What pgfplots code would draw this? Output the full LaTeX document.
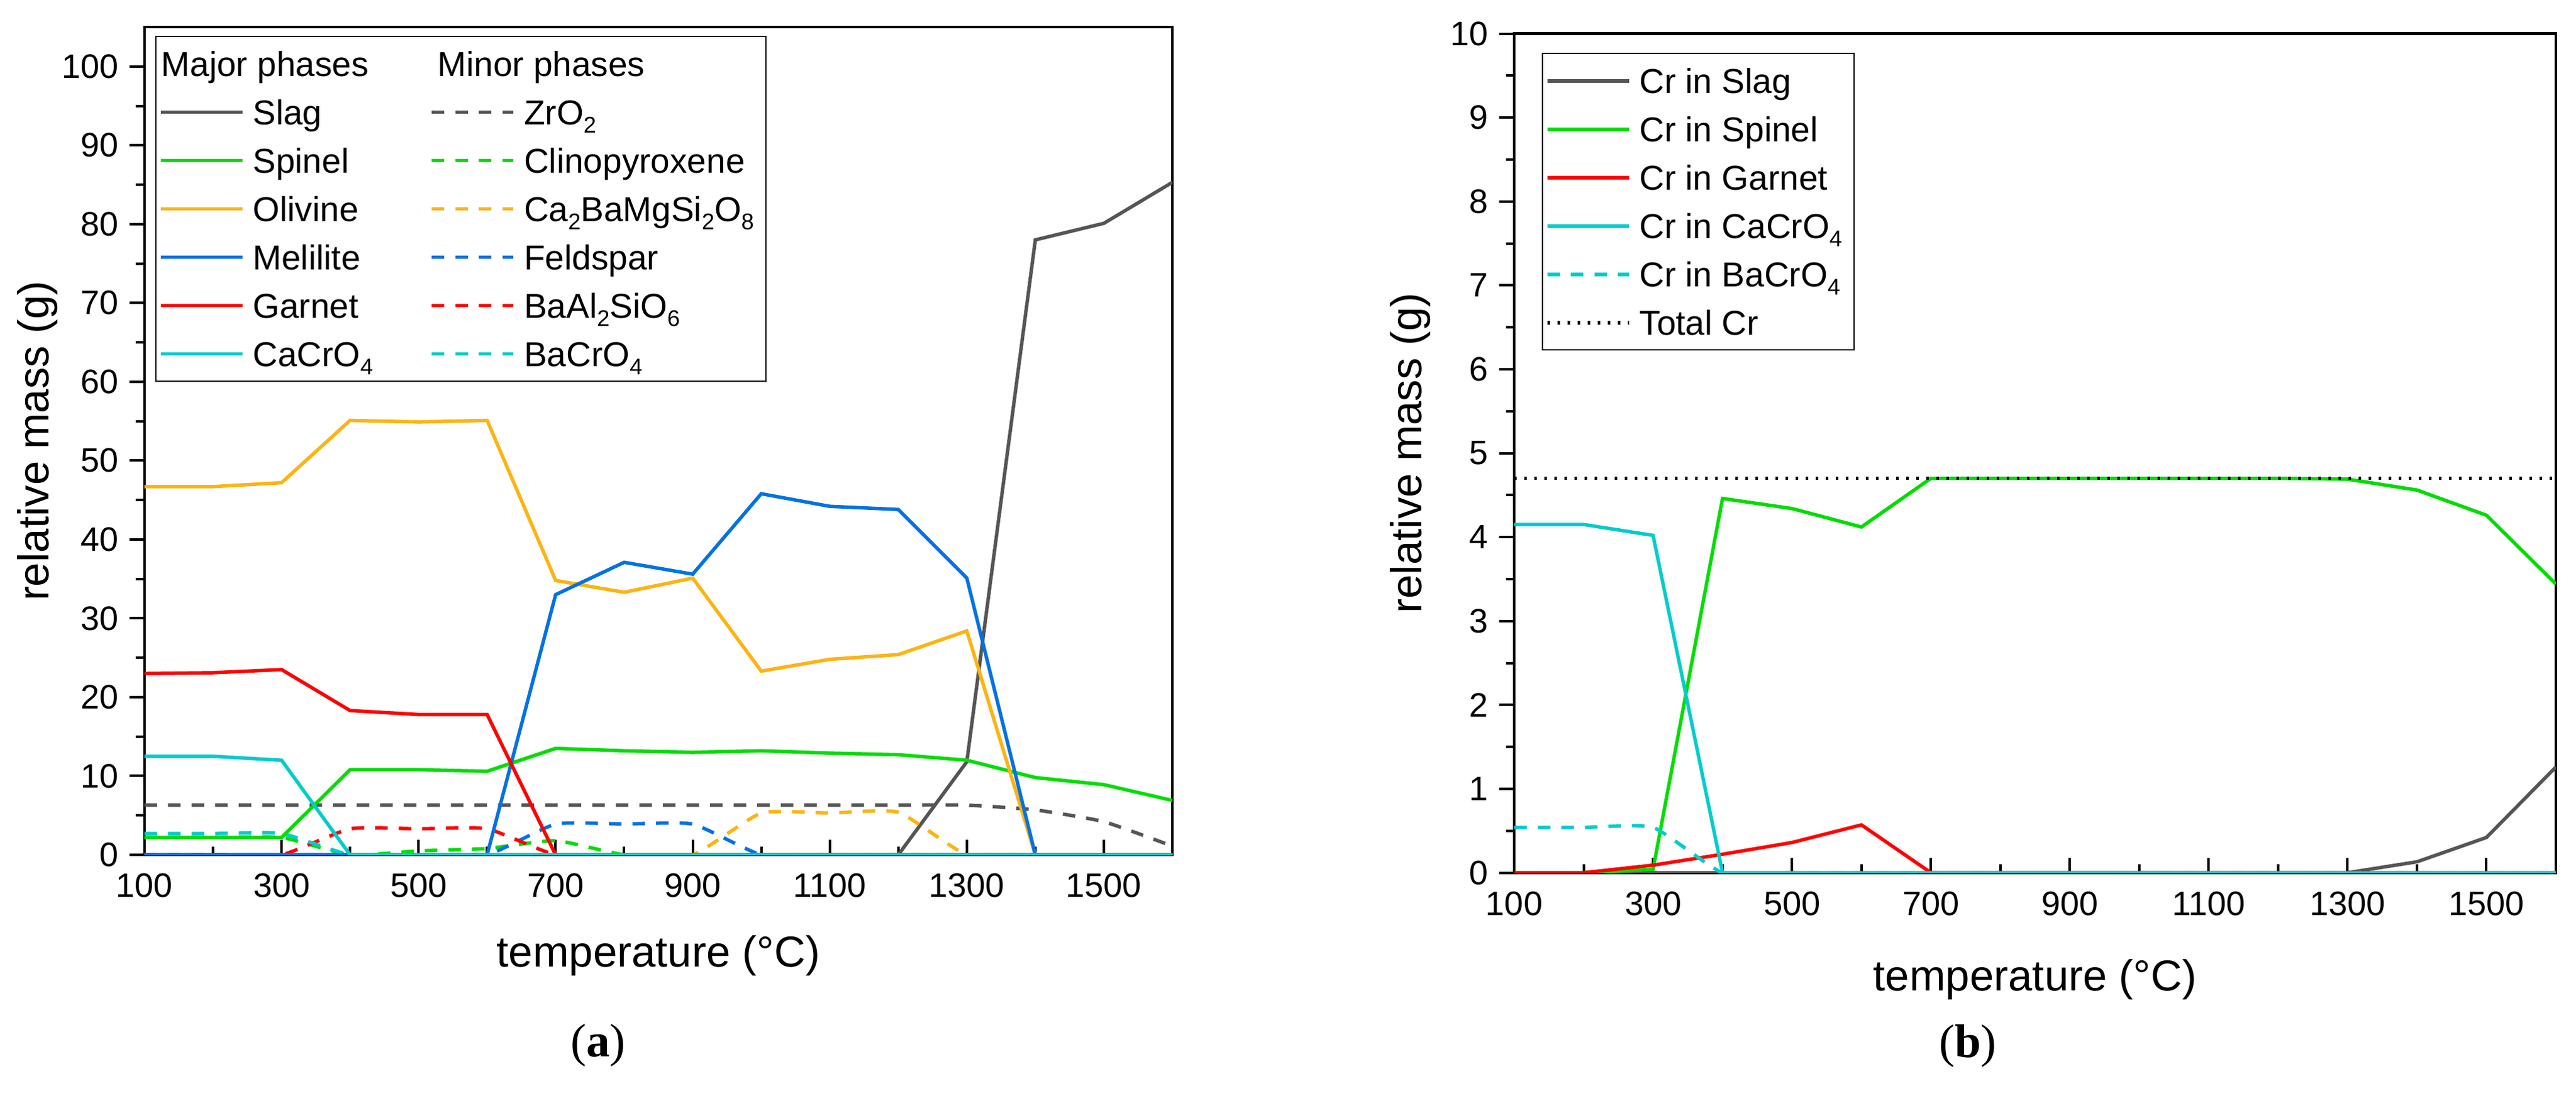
\documentclass[border=0pt]{standalone}
\usepackage{fontspec}
\setmainfont{Liberation Sans}
\newfontfamily\seriffont{Liberation Serif}
\usepackage{pgfplots}
\pgfplotsset{compat=1.18}
\usepackage{pgfplotstable}

\definecolor{cslag}{RGB}{85,85,85}
\definecolor{cspinel}{RGB}{0,221,0}
\definecolor{colivine}{RGB}{252,180,20}
\definecolor{cmelilite}{RGB}{0,114,228}
\definecolor{cgarnet}{RGB}{255,0,0}
\definecolor{ccacro}{RGB}{0,204,204}

\newcommand{\sub}[1]{\raisebox{-2.6pt}{\fontsize{7.2}{8}\selectfont #1}}

\pgfplotstableread{
T slag spinel olivine melilite garnet cacro zro clino cabamg feld baal bacro
100 0 2.2 46.7 0 23.0 12.5 6.3 2.2 0 0 0 2.7
200 0 2.2 46.7 0 23.1 12.5 6.3 2.2 0 0 0 2.7
300 0 2.2 47.2 0 23.5 12.0 6.3 2.2 0 0 0 2.7
400 0 10.8 55.1 0 18.3 0 6.3 0 0 0 3.3 0
500 0 10.8 54.9 0 17.8 0 6.3 0.5 0 0 3.3 0
600 0 10.6 55.1 0 17.8 0 6.3 0.8 0 0 3.3 0
700 0 13.5 34.8 33.0 0 0 6.3 1.8 0 3.9 0 0
800 0 13.2 33.3 37.1 0 0 6.3 0 0 3.9 0 0
900 0 13.0 35.1 35.6 0 0 6.3 0 0 3.9 0 0
1000 0 13.2 23.3 45.8 0 0 6.3 0 5.3 0 0 0
1100 0 12.9 24.8 44.2 0 0 6.3 0 5.3 0 0 0
1200 0 12.7 25.4 43.8 0 0 6.3 0 5.4 0 0 0
1300 11.8 12.0 28.4 35.1 0 0 6.3 0 0 0 0 0
1400 78.0 9.8 0 0 0 0 5.7 0 0 0 0 0
1500 80.1 8.9 0 0 0 0 4.2 0 0 0 0 0
1600 85.3 6.9 0 0 0 0 1.1 0 0 0 0 0
}\tableA

\pgfplotstableread{
T slag spinel garnet cacro bacro total
100 0 0 0 4.15 0.54 4.7
200 0 0 0 4.15 0.54 4.7
300 0 0.04 0.09 4.02 0.54 4.7
400 0 4.46 0.22 0 0 4.7
500 0 4.34 0.36 0 0 4.7
600 0 4.12 0.57 0 0 4.7
700 0 4.70 0 0 0 4.7
800 0 4.70 0 0 0 4.7
900 0 4.70 0 0 0 4.7
1000 0 4.70 0 0 0 4.7
1100 0 4.70 0 0 0 4.7
1200 0 4.70 0 0 0 4.7
1300 0 4.69 0 0 0 4.7
1400 0.13 4.56 0 0 0 4.7
1500 0.42 4.26 0 0 0 4.7
1600 1.26 3.44 0 0 0 4.7
}\tableB

\pgfplotsset{
  myaxis/.style={
    scale only axis,
    xmin=100, xmax=1600,
    xtick={100,300,...,1500},
    minor xtick={200,400,...,1600},
    xtick pos=bottom, ytick pos=left,
    tick align=inside,
    ytick align=outside,
    major tick length=4.8pt, minor tick length=2.7pt,
    tick style={black, line width=0.8pt},
    axis line style={line width=0.85pt},
    tick label style={font=\fontsize{10.8}{12}\selectfont},
    label style={font=\fontsize{13.8}{16}\selectfont},
    /pgf/number format/assume math mode=true,
    /pgf/number format/set thousands separator={},
    xlabel={temperature (°C)},
    ylabel={relative mass (g)},
    xticklabel style={yshift=-2.5pt},
    legend cell align=left,
    legend image code/.code={\draw[#1,line width=1.1pt] (0pt,0pt) -- (26pt,0pt);},
    legend style={draw=black, line width=0.4pt, inner sep=1pt, row sep=0pt,
      font=\fontsize{11}{13}\selectfont,
      nodes={inner xsep=2.8pt, inner ysep=0pt, text height=11.7pt, text depth=3.7pt}},
    title style={font=\seriffont\fontsize{15}{18}\selectfont, anchor=center},
  },
  dm/.style={dash pattern=on 4pt off 3.5pt, line width=1.1pt},
  sl/.style={solid, line width=1.1pt},
}

\begin{document}
\begin{tikzpicture}[x=1pt,y=1pt]
\useasboundingbox (0,0) rectangle (820,348.8);

% ---------------- (a) ----------------
\begin{axis}[myaxis,
  at={(46pt,76.6pt)}, anchor=south west,
  width=327.2pt, height=263.6pt,
  ymin=0, ymax=105,
  ytick={0,10,...,100},
  minor ytick={5,15,...,95},
  xlabel style={at={(axis description cs:0.5,-0.122)}, anchor=center},
  ylabel style={at={(axis description cs:-0.104,0.5)}, anchor=center},
  title={(\textbf{a})},
  title style={at={(axis description cs:0.4413,-0.253)}},
  legend columns=2,
  legend style={at={(axis description cs:0.0104,0.9894)}, anchor=north west,
    /tikz/every even column/.append style={column sep=15.4pt}},
]
\addplot[cslag, sl, forget plot] table[x=T,y=slag]{\tableA};
\addplot[cslag, dm, smooth, tension=0.3, forget plot] table[x=T,y=zro]{\tableA};
\addplot[cspinel, dm, smooth, tension=0.3, forget plot] table[x=T,y=clino]{\tableA};
\addplot[colivine, dm, smooth, tension=0.3, forget plot] table[x=T,y=cabamg]{\tableA};
\addplot[cmelilite, dm, smooth, tension=0.3, forget plot] table[x=T,y=feld]{\tableA};
\addplot[cgarnet, dm, smooth, tension=0.3, forget plot] table[x=T,y=baal]{\tableA};
\addplot[ccacro, dm, smooth, tension=0.3, forget plot] table[x=T,y=bacro]{\tableA};
\addplot[cspinel, sl, forget plot] table[x=T,y=spinel]{\tableA};
\addplot[colivine, sl, forget plot] table[x=T,y=olivine]{\tableA};
\addplot[cmelilite, sl, forget plot] table[x=T,y=melilite]{\tableA};
\addplot[cgarnet, sl, forget plot] table[x=T,y=garnet]{\tableA};
\addplot[ccacro, sl, forget plot] table[x=T,y=cacro]{\tableA};

\addlegendimage{legend image code/.code={\node[overlay,anchor=west,inner sep=0pt] at (0pt,0pt) {Major phases};}}
\addlegendentry{}
\addlegendimage{legend image code/.code={\node[overlay,anchor=west,inner sep=0pt] at (1.6pt,0pt) {Minor phases};}}
\addlegendentry{}
\addlegendimage{cslag, sl}\addlegendentry{Slag}
\addlegendimage{cslag, dm}\addlegendentry{ZrO\sub{2}}
\addlegendimage{cspinel, sl}\addlegendentry{Spinel}
\addlegendimage{cspinel, dm}\addlegendentry{Clinopyroxene}
\addlegendimage{colivine, sl}\addlegendentry{Olivine}
\addlegendimage{colivine, dm}\addlegendentry{Ca\sub{2}BaMgSi\sub{2}O\sub{8}}
\addlegendimage{cmelilite, sl}\addlegendentry{Melilite}
\addlegendimage{cmelilite, dm}\addlegendentry{Feldspar}
\addlegendimage{cgarnet, sl}\addlegendentry{Garnet}
\addlegendimage{cgarnet, dm}\addlegendentry{BaAl\sub{2}SiO\sub{6}}
\addlegendimage{ccacro, sl}\addlegendentry{CaCrO\sub{4}}
\addlegendimage{ccacro, dm}\addlegendentry{BaCrO\sub{4}}
\end{axis}

% ---------------- (b) ----------------
\begin{axis}[myaxis,
  at={(482pt,70.9pt)}, anchor=south west,
  width=331.6pt, height=267.2pt,
  ymin=0, ymax=10,
  ytick={0,1,...,10},
  minor ytick={0.5,1.5,...,9.5},
  xlabel style={at={(axis description cs:0.5,-0.127)}, anchor=center},
  ylabel style={at={(axis description cs:-0.0995,0.5)}, anchor=center},
  title={(\textbf{b})},
  title style={at={(axis description cs:0.4355,-0.229)}},
  legend style={at={(axis description cs:0.0265,0.9768)}, anchor=north west},
]
\addplot[cslag, sl, forget plot] table[x=T,y=slag]{\tableB};
\addplot[cspinel, sl, forget plot] table[x=T,y=spinel]{\tableB};
\addplot[cgarnet, sl, forget plot] table[x=T,y=garnet]{\tableB};
\addplot[ccacro, sl, forget plot] table[x=T,y=cacro]{\tableB};
\addplot[ccacro, dm, smooth, tension=0.3, forget plot] table[x=T,y=bacro]{\tableB};
\addplot[black, line width=1.1pt, dash pattern=on 0.8pt off 2.4pt, forget plot] table[x=T,y=total]{\tableB};

\addlegendimage{cslag, sl}\addlegendentry{Cr in Slag}
\addlegendimage{cspinel, sl}\addlegendentry{Cr in Spinel}
\addlegendimage{cgarnet, sl}\addlegendentry{Cr in Garnet}
\addlegendimage{ccacro, sl}\addlegendentry{Cr in CaCrO\sub{4}}
\addlegendimage{ccacro, dm}\addlegendentry{Cr in BaCrO\sub{4}}
\addlegendimage{black, line width=1.1pt, dash pattern=on 0.8pt off 2.4pt}\addlegendentry{Total Cr}
\end{axis}
\end{tikzpicture}
\end{document}
